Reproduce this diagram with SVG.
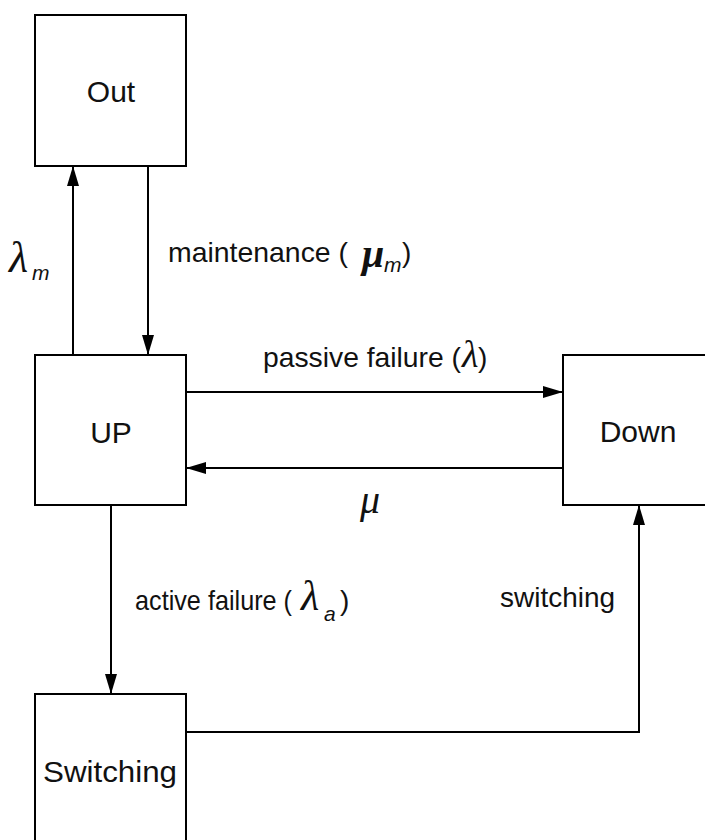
<svg xmlns="http://www.w3.org/2000/svg" width="705" height="840" viewBox="0 0 705 840">
  <style>
    .box { fill: #ffffff; stroke: #000000; stroke-width: 2; }
    .name { font-family: "Liberation Sans", Arial, sans-serif; font-size: 30px; fill: #111111; text-anchor: middle; }
    .lbl { font-family: "Liberation Sans", Arial, sans-serif; font-size: 28px; fill: #111111; }
    .gk { font-family: "Liberation Serif", "Times New Roman", serif; font-style: italic; fill: #111111; }
    .sub { font-family: "Liberation Sans", Arial, sans-serif; font-style: italic; font-size: 21px; fill: #111111; }
    .wire { fill: none; stroke: #000000; stroke-width: 2; }
  </style>
  <defs>
    <marker id="arrow" viewBox="0 0 20 12" refX="20" refY="6" markerWidth="20" markerHeight="12" markerUnits="userSpaceOnUse" orient="auto">
      <path d="M0,0 L20,6 L0,12 Z" fill="#000000"/>
    </marker>
  </defs>
  <rect width="705" height="840" fill="#ffffff"/>

  <!-- states -->
  <g id="node-out">
    <rect class="box" x="35" y="15" width="151" height="151"/>
    <text class="name" x="111" y="102">Out</text>
  </g>
  <g id="node-up">
    <rect class="box" x="35" y="355" width="151" height="150"/>
    <text class="name" x="111" y="443">UP</text>
  </g>
  <g id="node-down">
    <rect class="box" x="563" y="355" width="160" height="150"/>
    <text class="name" x="638" y="442">Down</text>
  </g>
  <g id="node-switching">
    <rect class="box" x="35" y="694" width="151" height="170"/>
    <text class="name" x="110" y="782" textLength="134" lengthAdjust="spacingAndGlyphs">Switching</text>
  </g>

  <!-- transitions -->
  <g id="connectors">
    <line class="wire" x1="73" y1="355" x2="73" y2="166" marker-end="url(#arrow)"/>
    <line class="wire" x1="148" y1="166" x2="148" y2="355" marker-end="url(#arrow)"/>
    <line class="wire" x1="186" y1="392" x2="563" y2="392" marker-end="url(#arrow)"/>
    <line class="wire" x1="563" y1="468" x2="186" y2="468" marker-end="url(#arrow)"/>
    <line class="wire" x1="111" y1="505" x2="111" y2="694" marker-end="url(#arrow)"/>
    <polyline class="wire" points="186,732 639,732 639,505" marker-end="url(#arrow)"/>
  </g>

  <!-- transition labels -->
  <g id="labels">
    <text class="gk" font-size="44" x="9" y="272">λ</text>
    <text class="sub" x="32" y="280">m</text>

    <text class="lbl" x="168" y="262" textLength="180" lengthAdjust="spacingAndGlyphs">maintenance (</text>
    <text class="gk" font-size="40" font-weight="bold" x="362" y="267">μ</text>
    <text class="sub" x="384" y="272">m</text>
    <text class="lbl" x="402" y="262">)</text>

    <text class="lbl" x="263" y="367" textLength="198" lengthAdjust="spacingAndGlyphs">passive failure (</text>
    <text class="gk" font-size="38" x="462" y="367">λ</text>
    <text class="lbl" x="478" y="367">)</text>

    <text class="gk" font-size="40" x="360" y="513">μ</text>

    <text class="lbl" x="135" y="610" textLength="157" lengthAdjust="spacingAndGlyphs">active failure (</text>
    <text class="gk" font-size="42" x="301" y="610">λ</text>
    <text class="sub" x="324" y="621">a</text>
    <text class="lbl" x="340" y="610">)</text>

    <text class="lbl" x="500" y="607" textLength="115" lengthAdjust="spacingAndGlyphs">switching</text>
  </g>
</svg>
